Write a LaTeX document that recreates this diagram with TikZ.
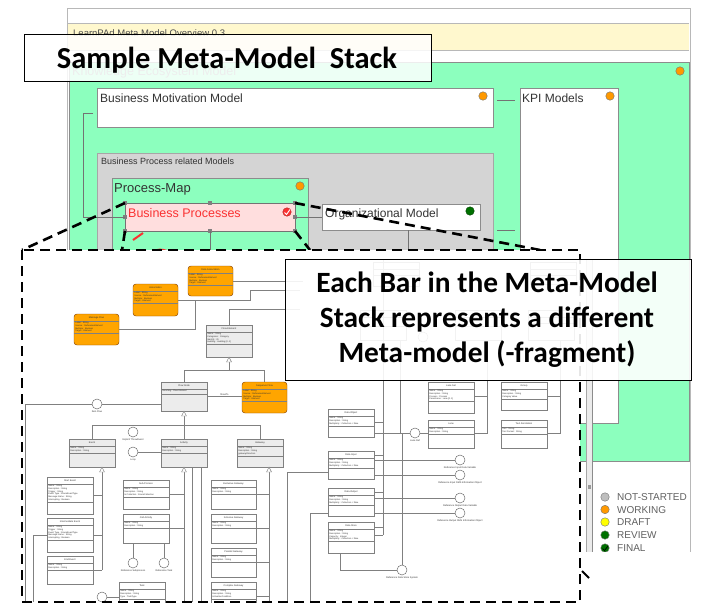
\documentclass[tikz,border=0pt]{standalone}
\usepackage{fontspec}
\setmainfont{Liberation Sans}
\newfontfamily\calfont{Carlito}
\usetikzlibrary{calc}

\definecolor{kgreen}{RGB}{140,255,190}
\definecolor{bargold}{RGB}{255,248,206}
\definecolor{groupgray}{RGB}{212,212,212}
\definecolor{selpink}{RGB}{255,222,222}
\definecolor{selred}{RGB}{250,50,50}
\definecolor{stwork}{RGB}{255,153,0}
\definecolor{stnot}{RGB}{190,190,190}
\definecolor{stdraft}{RGB}{255,255,0}
\definecolor{streview}{RGB}{0,112,0}
\definecolor{umlorange}{RGB}{255,165,0}
\definecolor{umlgray}{RGB}{236,236,236}

% class box: name, x, y (top left), width, height, style, title, attributes, attribute rule offset
\newcommand\umlcls[9]{%
  \node[#6, minimum width=#4pt, minimum height=#5pt] (#1) at (#2,#3) {};
  \draw[clsrule] ([yshift=-7pt]#1.north west) -- ([yshift=-7pt]#1.north east);
  \draw[clsrule] ([yshift=-#9pt]#1.north west) -- ([yshift=-#9pt]#1.north east);
  \node[clstitle] (#1-t) at ([yshift=-3.5pt]#1.north) {#7};
  \node[clsattr] (#1-a) at ([shift={(1.2pt,-8pt)}]#1.north west) {#8};
}
% plain class outline (compartments only): name, x, y, width, height, attribute rule offset
\newcommand\umlblank[6]{%
  \node[wcls, minimum width=#4pt, minimum height=#5pt] (#1) at (#2,#3) {};
  \draw[clsrule] ([yshift=-7pt]#1.north west) -- ([yshift=-7pt]#1.north east);
  \draw[clsrule] ([yshift=-#6pt]#1.north west) -- ([yshift=-#6pt]#1.north east);
}
% interface lollipop: name, x, y, label
\newcommand\umlif[4]{%
  \node[iface] (#1) at (#2,#3) {};
  \node[clstitle, anchor=north] (#1-l) at ([yshift=-1pt]#1.south) {#4};
}

\begin{document}
\begin{tikzpicture}[x=1pt,y=-1pt,
  winline/.style={draw=black!28, line width=0.8pt},
  pane/.style={draw=black!45, line width=0.8pt, inner sep=0, outer sep=0, anchor=north west},
  lbl/.style={inner sep=0, anchor=base west, text=black!80},
  dot/.style={circle, draw=black!55, line width=0.4pt, minimum size=8.5pt, inner sep=0},
  conn/.style={draw=black!55, line width=0.7pt},
  zoomline/.style={draw=black, line width=2.6pt, dash pattern=on 10pt off 6pt},
  cls/.style={draw=black!50, fill=umlgray, line width=0.45pt, inner sep=0, outer sep=0, anchor=north west},
  ocls/.style={cls, draw=orange!55!black, fill=umlorange, rounded corners=3pt},
  wcls/.style={cls, fill=white},
  clsrule/.style={draw=black!50, line width=0.3pt},
  clstitle/.style={inner sep=0, font=\fontsize{2.4}{2.8}\selectfont, text=black!80},
  clsattr/.style={inner sep=0, font=\fontsize{2.2}{2.7}\selectfont, align=left, text=black!80, anchor=north west},
  uml/.style={draw=black!50, line width=0.45pt},
  gentri/.style={draw=black!50, fill=white, line width=0.45pt},
  iface/.style={circle, draw=black!60, fill=white, line width=0.45pt, minimum size=10pt, inner sep=0},
  legtext/.style={inner sep=0, anchor=west, text=black!62, font=\fontsize{10}{12}\selectfont},
  callout/.style={draw=black, line width=1pt, fill=white, inner sep=0, outer sep=0, anchor=north west},
  bigtext/.style={inner sep=0, anchor=base, font=\calfont\bfseries\fontsize{29.4}{35}\selectfont},
]
\useasboundingbox (0,0) rectangle (701,606);
\fill[white] (0,0) rectangle (701,606);

% ---------- modelling tool window ----------
\fill[white] (67,8) rectangle (690,552);
\fill[bargold] (68,24) rectangle (689,50);
\draw[winline] (68,23.5) -- (689,23.5);
\draw[winline] (68,50.5) -- (689,50.5);
\draw[winline] (67,552) |- (690,8) -- (690,552);
\node[lbl, text=black!70, font=\fontsize{9.5}{11}\selectfont] (wintitle) at (73,36) {LearnPAd Meta Model Overview 0.3};

% Knowledge Ecosystem Model container
\node[pane, fill=kgreen, minimum width=620pt, minimum height=399pt] (kem) at (69,62) {};
\node[lbl, text=black!45, font=\fontsize{12.5}{15}\selectfont] (kem-t) at (72,75) {Knowledge Ecosystem Model};
\node[dot, fill=stwork] (kem-d) at (680,71) {};

% Business Motivation Model
\node[pane, fill=white, minimum width=396pt, minimum height=39pt] (bmm) at (97,88) {};
\node[lbl, font=\fontsize{12}{14}\selectfont] (bmm-t) at (100,102) {Business Motivation Model};
\node[dot, fill=stwork] (bmm-d) at (483,96) {};

% KPI Models
\node[pane, fill=white, minimum width=98pt, minimum height=335pt] (kpi) at (520,88) {};
\node[lbl, font=\fontsize{12}{14}\selectfont] (kpi-t) at (522,102) {KPI Models};
\node[dot, fill=stwork] (kpi-d) at (610,96) {};

% Business Process related Models
\node[pane, fill=groupgray, draw=black!35, minimum width=396pt, minimum height=160pt] (bprm) at (97,153) {};
\node[lbl, font=\fontsize{9}{11}\selectfont] (bprm-t) at (101,164) {Business Process related Models};

% Process-Map
\node[pane, fill=kgreen, minimum width=196pt, minimum height=130pt] (pmap) at (112,178) {};
\node[lbl, font=\fontsize{13}{15}\selectfont] (pmap-t) at (114,192) {Process-Map};
\node[dot, fill=stwork] (pmap-d) at (300,186) {};

% Business Processes (selected)
\node[pane, fill=selpink, draw=black!55, minimum width=170pt, minimum height=28pt] (bp) at (125,203) {};
\node[lbl, text=selred, font=\fontsize{12.5}{15}\selectfont] (bp-t) at (128,217) {Business Processes};
\node[dot, fill=selred, draw=selred!70!black] (bp-d) at (287,212) {};
\draw[white, line width=0.9pt] (284.5,212.5) -- (286.5,214.5) -- (290,209.5);
\foreach \h in {north west, north, north east, west, east, south west, south, south east}
  \fill[black!50] (bp.\h) +(-2pt,-2pt) rectangle +(2pt,2pt);

% Organizational Model
\node[pane, fill=white, minimum width=158pt, minimum height=26pt] (org) at (322,204) {};
\node[lbl, font=\fontsize{12}{14}\selectfont] (org-t) at (325,217) {Organizational Model};
\node[dot, fill=streview, draw=streview!60!black] (org-d) at (470,211) {};

% model relations
\coordinate (bmmfoot) at (93,113);
\coordinate (bmmkpiA) at (497,100);
\coordinate (bmmkpiB) at (515,100);
\coordinate (bprmkpiA) at (497,230);
\coordinate (bprmkpiB) at (515,230);
\draw[conn] (bmmfoot) -- (83,113) -- (83,217) -- (bp.west);
\draw[conn] (bp.east) -- (org.west);
\draw[conn] (bmmkpiA) -- (bmmkpiB);
\draw[conn] (bprmkpiA) -- (bprmkpiB);
\draw[conn] (bp.south) -- ++(0,20);
\draw[conn] ([xshift=7pt]org.south) -- ++(0,20);

% pane splitter and status legend
\fill[black!8] (586,259) rectangle (592,552);
\draw[black!35, line width=0.6pt] (586,259) -- (586,552);
\draw[black!45, line width=0.8pt] (592,259) -- (592,552);
\fill[black!40] (587.5,485) rectangle (590.5,489);
\begin{scope}
  \clip (593,462) rectangle (689.5,551.5);
  \node[dot, fill=stnot] (lg1) at (605,497) {};
  \node[legtext] (lg1-t) at (617,497.5) {NOT-STARTED};
  \node[dot, fill=stwork] (lg2) at (605,509.5) {};
  \node[legtext] (lg2-t) at (617,510) {WORKING};
  \node[dot, fill=stdraft] (lg3) at (605,522) {};
  \node[legtext] (lg3-t) at (617,522.5) {DRAFT};
  \node[dot, fill=streview] (lg4) at (605,535) {};
  \node[legtext] (lg4-t) at (617,535.5) {REVIEW};
  \node[dot, fill=streview] (lg5) at (605,548) {};
  \draw[black, line width=0.7pt] (602.5,548.5) -- (604.5,550.5) -- (608,546);
  \node[legtext] (lg5-t) at (617,548.5) {FINAL};
\end{scope}

% ---------- zoom projection from the selected model ----------
\coordinate (zNW) at (22,250);
\coordinate (zSE) at (580,602);
\coordinate (zA) at (122,250);
\coordinate (zB) at (310,250);
\coordinate (zC) at (540,250);
\draw[zoomline] (bp.north west) -- (zNW);
\draw[zoomline] (bp.south west) -- (zA);
\draw[zoomline] (bp.north east) -- (zC);
\draw[zoomline] (bp.south east) -- (zB);
\draw[selred, line width=2pt] (133,240) -- (143,233);
\draw[selred, line width=2pt] (152,252) to[bend left=25] (167,251);

% ---------- meta-model fragment ----------
\fill[white] (zNW) rectangle (zSE);
\begin{scope}
\clip (zNW) rectangle (zSE);

% classes lying under the annotation box
\umlblank{h1}{373}{262}{46}{24}{13}
\umlblank{h2}{530}{262}{46}{22}{13}
\umlblank{h3}{360}{310}{46}{30}{16}
\umlblank{h4}{455}{310}{46}{30}{16}
\umlblank{h5}{528}{310}{46}{30}{13}
\node[iface] (ihid) at (423,337) {};

% orange (connecting) classes
\umlcls{da}{188}{266}{45}{30}{ocls}{Data Association}{Label : String\\Source : ReferenceElement\\Multiple : Boolean\\Target : Element}{19.5}
\umlcls{as}{133}{284}{45}{32}{ocls}{Association}{Label : String\\Source : ReferenceElement\\Multiple : Boolean\\Target : Element}{19.5}
\umlcls{mf}{74}{314}{45}{31}{ocls}{Message Flow}{Label : String\\Source : ReferenceElement\\Multiple : Boolean\\Target : Element}{19.5}
\umlcls{sf}{242}{382}{45}{31}{ocls}{Sequence Flow}{Label : String\\Source : ReferenceElement\\Multiple : Boolean\\Target : Element}{19.5}

% flow element hierarchy
\umlcls{fe}{206}{325}{46}{32}{cls}{Flow Element}{Name : String\\Categories : Category\\Identify : ID\\Auditing : Auditing [0..1]}{19.5}
\umlcls{fn}{161}{382}{46}{29}{cls}{Flow Node}{Incoming : Flow Element}{12}
\umlcls{ev}{69}{439}{46}{28}{cls}{Event}{Name : String\\Description : String}{14.5}
\umlcls{ac}{161}{439}{46}{28}{cls}{Activity}{Name : String\\Description : String}{14.5}
\umlcls{gw}{237}{439}{46}{28}{cls}{Gateway}{Name : String\\Description : String\\gatewayDirection}{17}

% events
\umlcls{se}{47}{477}{46}{37}{wcls}{Start Event}{Name : String\\Description : String\\Trigger : String\\Event Type : EnumEventType\\Message Name : String\\Interrupting : Boolean}{25}
\umlcls{ie}{47}{518}{46}{34}{wcls}{Intermediate Event}{Name : String\\Trigger : String\\Event Type : EnumEventType\\Message Name : String\\Interrupting : Boolean}{22.5}
\umlcls{ee}{47}{556}{46}{28}{wcls}{End Event}{Name : String\\Description : String}{14.5}

% activities
\umlcls{sp}{123}{480}{46}{29}{wcls}{Sub-Process}{Name : String\\Description : String\\Is Collection : EnumCollection}{17}
\umlcls{ca}{123}{514}{46}{29}{wcls}{Call Activity}{Name : String\\Description : String}{14.5}
\umlcls{tk}{119}{582}{46}{28}{wcls}{Task}{Name : String\\Description : String\\Type : TaskType}{17}

% gateways
\umlcls{xg}{211}{480}{45}{29}{wcls}{Exclusive Gateway}{Name : String\\Description : String}{14.5}
\umlcls{ig}{211}{514}{45}{29}{wcls}{Inclusive Gateway}{Name : String\\Description : String}{14.5}
\umlcls{pg}{211}{548}{45}{29}{wcls}{Parallel Gateway}{Name : String\\Description : String}{14.5}
\umlcls{cg}{211}{582}{45}{28}{wcls}{Complex Gateway}{Name : String\\Description : String\\ActivationCondition}{17}

% data and artifacts
\umlcls{dob}{328}{409}{46}{28}{wcls}{Data Object}{Name : String\\Description : String\\Multiplicity : Collection = false}{17}
\umlcls{din}{328}{451}{46}{28}{wcls}{Data Input}{Name : String\\Description : String\\Multiplicity : Collection = false}{17}
\umlcls{dout}{328}{488}{46}{28}{wcls}{Data Output}{Name : String\\Description : String\\Multiplicity : Collection = false}{17}
\umlcls{dst}{328}{522}{46}{31}{wcls}{Data Store}{Name : String\\Description : String\\Capacity : Integer\\Multiplicity : Collection = false}{19.5}
\umlcls{ls}{428}{382}{46}{31}{wcls}{Lane Set}{Name : String\\Description : String\\Process : Process\\ParentLane : Lane [0..1]}{19.5}
\umlcls{ln}{428}{420}{46}{28}{wcls}{Lane}{Name : String\\Description : String}{14.5}
\umlcls{gr}{501}{382}{46}{28}{wcls}{Group}{Name : String\\Description : String\\Category Value}{17}
\umlcls{ta}{501}{420}{46}{28}{wcls}{Text Annotation}{Text : String\\Text Format : String}{14.5}

% lollipop interfaces
\umlif{iflow}{97}{404}{Item Flow}
\umlif{iimp}{133}{432}{Implicit ThrowEvent}
\umlif{iloop}{133}{452}{Loop}
\umlif{icomp}{133}{563}{Reference Subprocess}
\umlif{icall}{164}{563}{Reference Task}
\umlif{itask}{102}{597}{Resource}
\umlif{ilane}{415}{433}{Lane Ref}
\umlif{ir1}{460}{460}{Reference Input Data Variable}
\umlif{ir2}{460}{475}{Reference Input DMS Information Object}
\umlif{ir3}{460}{498}{Reference Output Data Variable}
\umlif{ir4}{460}{513}{Reference Output DMS Information Object}
\umlif{ist}{402}{570}{Reference Data Store System}

% associations among the connecting classes
\draw[uml] (da.east) -- ++(70,0);
\draw[uml] (mf.east) -| (195,300) -- (250,300) |- (300,290);
\draw[uml] (as.east) -- (as.east -| 195,0);
\draw[uml] (fe.north) |- (300,309);
\draw[uml] (fn.east |- 0,396) -- node[clstitle, above=0.6pt] {flowsTo} (sf.west |- 0,396);
\draw[uml] (fn.west |- iflow.east) -- (iflow.east);
\draw[uml] (iflow.west) -| (25,602);

% generalisations
\draw[uml] ($(fe.south)+(0,5)$) -- (fe.south |- 0,370);
\draw[uml] (fn.north) -- ++(0,-12) -| (sf.north);
\draw[gentri] (fe.south) -- ++(-2.5,5) -- ++(5,0) -- cycle;
\draw[uml] ($(fn.south)+(0,5)$) -- (fn.south |- 0,425);
\draw[uml] (ev.north) -- ++(0,-14) -| (gw.north);
\draw[uml] (ac.north) -- ++(0,-14);
\draw[gentri] (fn.south) -- ++(-2.5,5) -- ++(5,0) -- cycle;
\draw[uml] (iloop.east) -- (ac.west |- iloop.east);

\coordinate (evg) at (102,467);
\draw[uml] ($(evg)+(0,5)$) -- (102,570);
\draw[uml] (se.east) -- (se.east -| evg);
\draw[uml] (ie.east) -- (ie.east -| evg);
\draw[uml] (ee.east) -- (ee.east -| evg);
\draw[gentri] (evg) -- ++(-2.5,5) -- ++(5,0) -- cycle;

\draw[uml] ($(ac.south)+(0,5)$) -- (ac.south |- 0,602);
\draw[uml] (sp.east) -- (sp.east -| ac.south);
\draw[uml] (ca.east) -- (ca.east -| ac.south);
\draw[uml] (192,467) -- (192,602);
\draw[uml] (201,467) -- (201,602);
\draw[gentri] (ac.south) -- ++(-2.5,5) -- ++(5,0) -- cycle;

\coordinate (gwg) at (269,467);
\draw[uml] ($(gwg)+(0,5)$) -- (269,602);
\draw[uml] (xg.east) -- (xg.east -| gwg);
\draw[uml] (ig.east) -- (ig.east -| gwg);
\draw[uml] (pg.east) -- (pg.east -| gwg);
\draw[uml] (cg.east) -- (cg.east -| gwg);
\draw[gentri] (gwg) -- ++(-2.5,5) -- ++(5,0) -- cycle;

\draw[uml] (icomp.north |- ca.south) -- (icomp.north);
\draw[uml] (icall.north |- ca.south) -- (icall.north);
\draw[uml] (ie.west) -| (33,602);
\draw[uml] (itask.east) -- (tk.west |- itask.east);

% data references
\draw[uml] (din.west |- 0,472) -| (287,602);
\draw[uml] (dout.west |- 0,513) -| (310,602);
\draw[uml] (383,259) -- (383,535);
\draw[uml] (402,433) -- (ist.north);
\draw[uml] (dob.east |- 0,422) -- (383,422);
\draw[uml] (dob.east |- 0,433) -- (ilane.west);
\draw[uml] (ilane.east) -- (ln.west |- ilane.east);
\draw[uml] (din.east |- 0,455) -- (383,455);
\draw[uml] (din.east |- ir1.west) -- (ir1.west);
\draw[uml] (din.east |- ir2.west) -- (ir2.west);
\draw[uml] (dout.east |- 0,492) -- (383,492);
\draw[uml] (dout.east |- ir3.west) -- (ir3.west);
\draw[uml] (dout.east |- ir4.west) -- (ir4.west);
\draw[uml] (dst.east |- 0,527) -- (383,527);
\draw[uml] (dst.east |- 0,535) -- (383,535);
\draw[uml] ([xshift=-11pt]dst.south) |- (ist.west);
\draw[uml] (ls.east |- 0,396) -- (487,396);
\draw[uml] (487,340) -- (487,433) -- (ln.east |- 0,433);
\draw[uml] (gr.east |- 0,396) -- (560,396);
\draw[uml] (560,340) -- (560,433) -- (ta.east |- 0,433);
\draw[uml] (h3.south) -- ++(0,20);
\draw[uml] (400,340) -- (400,433);
\end{scope}
\draw[zoomline] (zNW) rectangle (zSE);

% ---------- annotations ----------
\node[callout, fill opacity=0.85, minimum width=407pt, minimum height=47pt] (stackbox) at (24,34) {};
\node[bigtext, font=\calfont\bfseries\fontsize{30.5}{36}\selectfont] (stack-t) at (227,68) {Sample Meta-Model\ \ Stack};

\node[callout, fill opacity=0.9, minimum width=406pt, minimum height=121pt] (notebox) at (285,259) {};
\node[bigtext] (note1) at (487,292) {Each Bar in the Meta-Model};
\node[bigtext] (note2) at (487,327) {Stack represents a different};
\node[bigtext] (note3) at (487,362) {Meta-model (-fragment)};

% pointer mark
\draw[black, line width=2pt] (582,571) -- (589,578);
\end{tikzpicture}
\end{document}
